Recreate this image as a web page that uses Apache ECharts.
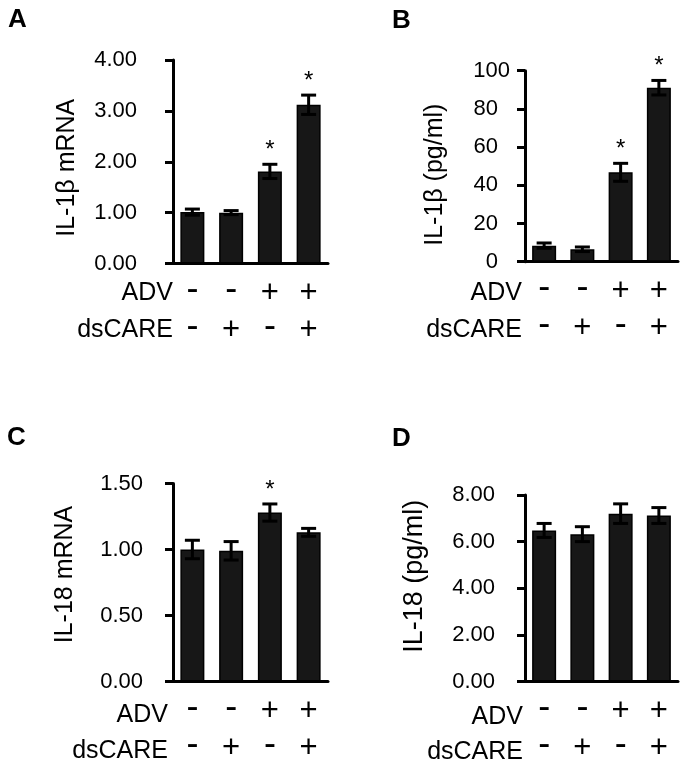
<!DOCTYPE html>
<html>
<head>
<meta charset="utf-8">
<script src="https://cdn.jsdelivr.net/npm/echarts@6/dist/echarts.min.js"></script>
<style>
html,body{margin:0;padding:0;background:#fff;}
#chart{width:685px;height:769px;}
</style>
</head>
<body>
<div id="chart"></div>
<script>
// ---- data ----
const adv    = ['-', '-', '+', '+'];
const dscare = ['-', '+', '-', '+'];

const il1bMrna     = [1.01, 1.00, 1.81, 3.12];
const il1bMrnaErr  = [0.06, 0.04, 0.14, 0.19];
const il1bMrnaSig  = ['', '', '*', '*'];

const il1bProt     = [8.4, 6.5, 46.8, 91.1];
const il1bProtErr  = [1.4, 1.2, 4.7, 3.8];
const il1bProtSig  = ['', '', '*', '*'];

const il18Mrna     = [1.00, 0.99, 1.28, 1.13];
const il18MrnaErr  = [0.07, 0.07, 0.065, 0.03];
const il18MrnaSig  = ['', '', '*', ''];

const il18Prot     = [6.48, 6.32, 7.20, 7.12];
const il18ProtErr  = [0.30, 0.32, 0.42, 0.34];
const il18ProtSig  = ['', '', '', ''];

const yNames = ['IL-1\u03b2 mRNA', 'IL-1\u03b2 (pg/ml)', 'IL-18 mRNA', 'IL-18 (pg/ml)'];
const panelLetters = ['A', 'B', 'C', 'D'];
const rowNames = ['ADV', 'dsCARE'];

// ---- chart ----
const FONT = "'Liberation Sans', Arial, sans-serif";
const chart = echarts.init(document.getElementById('chart'), null, {renderer: 'canvas'});

const grids = [
  {left: 173, width: 155, top: 60,  height: 203.5},
  {left: 525, width: 153, top: 70.7, height: 191},
  {left: 173, width: 155, top: 483.5, height: 204.5},
  {left: 525, width: 153, top: 495, height: 191.7}
];

const categories = adv.map((a, i) => a + dscare[i]);
const signTok = s => (s === '+' ? '{p|+}' : '{m|-}');

function xAxis(gi) {
  return {
    type: 'category', gridIndex: gi, data: categories,
    axisLine: {lineStyle: {color: '#000', width: 3}},
    axisTick: {show: false},
    axisLabel: {
      interval: 0, color: '#000', fontFamily: FONT, fontSize: 25, lineHeight: 37, margin: 11,
      formatter: (v, i) => signTok(adv[i]) + '\n' + signTok(dscare[i]),
      rich: {
        p: {fontFamily: FONT, fontSize: 31, color: '#000', lineHeight: 37, verticalAlign: 'middle'},
        m: {fontFamily: FONT, fontSize: 36, color: '#000', lineHeight: 37, verticalAlign: 'middle', padding: [0, 0, 6, 0]}
      }
    }
  };
}

function yAxis(gi, max, interval, fmt, margin, nameSize, namePad, nameGap) {
  return {
    type: 'value', gridIndex: gi, min: 0, max: max, interval: interval,
    name: yNames[gi], nameLocation: 'middle', nameGap: nameGap,
    nameTextStyle: {color: '#000', fontFamily: FONT, fontSize: nameSize, padding: namePad},
    axisLine: {show: true, lineStyle: {color: '#000', width: 3}},
    axisTick: {show: true, length: 8, lineStyle: {color: '#000', width: 3}},
    splitLine: {show: false},
    axisLabel: {
      color: '#000', fontFamily: FONT, fontSize: 22, margin: margin, formatter: fmt,
      rich: {p: {padding: [0, 12, 0, 0], fontFamily: FONT, fontSize: 22, color: '#000'}}
    }
  };
}

function barSeries(gi, vals) {
  return {
    type: 'bar', xAxisIndex: gi, yAxisIndex: gi, data: vals, barWidth: 24,
    itemStyle: {color: '#171717', borderColor: '#000', borderWidth: 1.5},
    silent: true, animation: false
  };
}

function errSeries(gi, vals, errs, sig) {
  return {
    type: 'custom', xAxisIndex: gi, yAxisIndex: gi, z: 10, animation: false, silent: true,
    data: vals.map((v, i) => [i, v, errs[i]]),
    renderItem: function (params, api) {
      const x = api.value(0), m = api.value(1), e = api.value(2);
      const s = sig[params.dataIndex];
      const top = api.coord([x, m + e]);
      const bot = api.coord([x, m - e]);
      const hw = 7.5;
      const st = {stroke: '#000', lineWidth: 3};
      const children = [
        {type: 'line', shape: {x1: top[0], y1: top[1], x2: bot[0], y2: bot[1]}, style: st},
        {type: 'line', shape: {x1: top[0] - hw, y1: top[1], x2: top[0] + hw, y2: top[1]}, style: st},
        {type: 'line', shape: {x1: bot[0] - hw, y1: bot[1], x2: bot[0] + hw, y2: bot[1]}, style: st}
      ];
      if (s) {
        children.push({type: 'text', x: top[0], y: top[1] - 14,
          style: {text: s, font: '24px ' + FONT, fill: '#000', textAlign: 'center', textVerticalAlign: 'middle'}});
      }
      return {type: 'group', children: children};
    }
  };
}

const fmt2 = v => v.toFixed(2);
const fmtB = v => (v === 100 ? '100' : '{p|' + v + '}');

const letterPos = [[8, 20], [392, 21], [7, 438], [392, 439]];
const rowPos = [[173, 293, 330], [522, 293, 330], [168, 715, 751], [523, 717, 752]];

const graphic = [];
letterPos.forEach((p, i) => {
  graphic.push({type: 'text', x: p[0], y: p[1],
    style: {text: panelLetters[i], font: 'bold 26px ' + FONT, fill: '#000', textVerticalAlign: 'middle'}});
});
rowPos.forEach(p => {
  rowNames.forEach((n, k) => {
    graphic.push({type: 'text', x: p[0], y: p[k + 1],
      style: {text: n, font: '25px ' + FONT, fill: '#000', textAlign: 'right', textVerticalAlign: 'middle'}});
  });
});

chart.setOption({
  animation: false,
  grid: grids,
  xAxis: [xAxis(0), xAxis(1), xAxis(2), xAxis(3)],
  yAxis: [
    yAxis(0, 4, 1, fmt2, 36, 25, [0, 12, 0, 0], 93),
    yAxis(1, 100, 20, fmtB, 15, 25, [0, 17, 0, 0], 77),
    yAxis(2, 1.5, 0.5, fmt2, 30, 25, [0, 0, 0, 16], 95),
    yAxis(3, 8, 2, fmt2, 30, 27, [0, 0, 0, 24], 97)
  ],
  series: [
    barSeries(0, il1bMrna), errSeries(0, il1bMrna, il1bMrnaErr, il1bMrnaSig),
    barSeries(1, il1bProt), errSeries(1, il1bProt, il1bProtErr, il1bProtSig),
    barSeries(2, il18Mrna), errSeries(2, il18Mrna, il18MrnaErr, il18MrnaSig),
    barSeries(3, il18Prot), errSeries(3, il18Prot, il18ProtErr, il18ProtSig)
  ],
  graphic: graphic
});
</script>
</body>
</html>
